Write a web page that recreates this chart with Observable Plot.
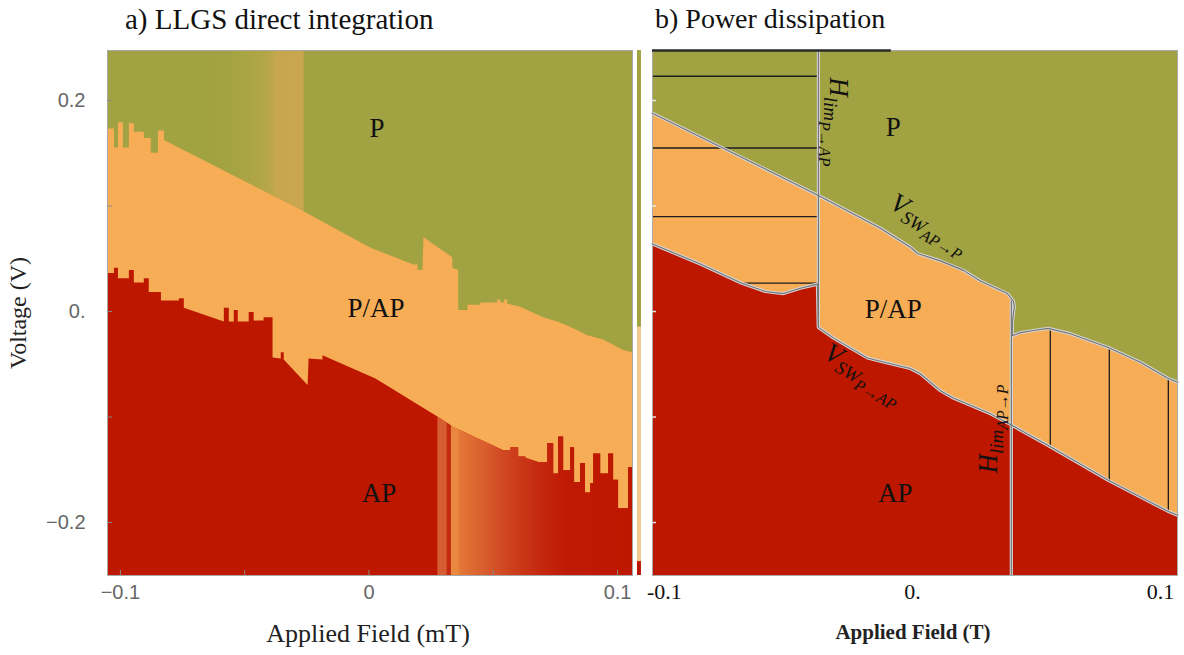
<!DOCTYPE html>
<html><head><meta charset="utf-8">
<script src="https://cdn.jsdelivr.net/npm/d3@7"></script>
<script src="https://cdn.jsdelivr.net/npm/@observablehq/plot@0.6"></script>
<style>
body{margin:0;background:#fff;}
#wrap{position:relative;width:1184px;height:655px;overflow:hidden;font-family:"Liberation Serif",serif;color:#111;}
#wrap svg{position:absolute;top:0;}
.lbl{position:absolute;white-space:nowrap;line-height:1;}
</style></head><body><div id="wrap"></div>
<script>
// ---------------- DATA ----------------
const regionLabels = ["P", "P/AP", "AP"];
const voltDomain = [-0.2502, 0.2474];
const voltTicks = [-0.2, -0.1, 0, 0.1, 0.2];
const aVoltLabelTicks = [-0.2, 0, 0.2];
const aVoltLabels = ["\u22120.2", "0.", "0.2"];

// Panel a: LLGS direct integration
const aFieldDomain = [-0.1052, 0.1060];
const aFieldTicks = [-0.1, -0.05, 0, 0.05, 0.1];
const aFieldLabelTicks = [-0.1, 0, 0.1];
const aFieldLabels = ["\u22120.1", "0", "0.1"];
// P | P/AP boundary
const aUpperField = [-0.1052,-0.1024,-0.1024,-0.1008,-0.1008,-0.0988,-0.0988,-0.0964,-0.0964,-0.0944,-0.0944,-0.0904,-0.0904,-0.0876,-0.0876,-0.0847,-0.0847,-0.0823,-0.0823,-0.0273,0.0008,0.0181,0.0197,0.0197,0.0217,0.0221,0.0337,0.0337,0.0361,0.0361,0.0398,0.0398,0.0450,0.0450,0.0518,0.0518,0.0530,0.0530,0.0546,0.0546,0.0558,0.0558,0.0610,0.0703,0.0759,0.0811,0.0880,0.0944,0.1024,0.1060];
const aUpperVolt = [0.173,0.173,0.155,0.155,0.179,0.179,0.155,0.155,0.178,0.178,0.170,0.170,0.164,0.164,0.150,0.150,0.171,0.171,0.162,0.096,0.060,0.044,0.044,0.039,0.039,0.070,0.051,0.041,0.039,0.001,0.001,0.006,0.006,0.008,0.008,0.011,0.011,0.008,0.008,0.011,0.011,0.007,0.004,-0.006,-0.010,-0.015,-0.023,-0.027,-0.037,-0.039];
// P/AP | AP boundary
const aLowerField = [-0.1052,-0.1024,-0.1024,-0.1008,-0.1008,-0.0964,-0.0964,-0.0944,-0.0944,-0.0904,-0.0904,-0.0884,-0.0884,-0.0835,-0.0835,-0.0763,-0.0763,-0.0743,-0.0743,-0.0582,-0.0582,-0.0562,-0.0562,-0.0542,-0.0542,-0.0526,-0.0526,-0.0482,-0.0482,-0.0462,-0.0462,-0.0422,-0.0422,-0.0386,-0.0386,-0.0353,-0.0353,-0.0341,-0.0341,-0.0245,-0.0241,-0.0185,-0.0185,0.0028,0.0277,0.0341,0.0542,0.0570,0.0570,0.0602,0.0602,0.0631,0.0631,0.0683,0.0719,0.0719,0.0743,0.0743,0.0763,0.0763,0.0783,0.0783,0.0811,0.0811,0.0827,0.0827,0.0851,0.0851,0.0871,0.0871,0.0892,0.0892,0.0904,0.0904,0.0932,0.0932,0.0964,0.0964,0.0984,0.0984,0.1004,0.1004,0.1044,0.1044,0.1060];
const aLowerVolt = [0.036,0.036,0.041,0.041,0.031,0.031,0.039,0.039,0.027,0.027,0.031,0.031,0.018,0.018,0.010,0.010,0.012,0.012,0.003,-0.010,0.003,0.003,-0.010,-0.010,0.001,0.001,-0.010,-0.010,-0.001,-0.001,-0.009,-0.009,-0.006,-0.006,-0.044,-0.045,-0.039,-0.039,-0.046,-0.070,-0.045,-0.046,-0.042,-0.064,-0.100,-0.110,-0.132,-0.132,-0.129,-0.129,-0.138,-0.138,-0.139,-0.143,-0.143,-0.125,-0.125,-0.154,-0.154,-0.119,-0.119,-0.151,-0.151,-0.129,-0.129,-0.162,-0.162,-0.144,-0.144,-0.172,-0.172,-0.163,-0.163,-0.135,-0.135,-0.154,-0.154,-0.135,-0.135,-0.160,-0.160,-0.187,-0.187,-0.148,-0.148];
const aGreenBand = [-0.0647, -0.0261];   // shaded stripe inside P region
const aRedBandStart = 0.0277;            // shaded stripe inside AP region
const aLabelField = [0.0032, 0.0028, 0.0040];
const aLabelVolt = [0.174, 0.003, -0.172];
const sliverField = [0.1080, 0.1096];
const sliverTop = [0.2474, -0.015, -0.237];
const sliverBottom = [-0.015, -0.237, -0.2502];

// Panel b: Power dissipation
const bFieldDomain = [-0.1048, 0.1069];
const bFieldLabelTicks = [-0.1, 0, 0.1];
const bFieldLabels = ["-0.1", "0.", "0.1"];
const bUpperField = [-0.1048,-0.0379,-0.0129,-0.0008,0.0020,0.0113,0.0206,0.0274,0.0383,0.0407,0.0411,0.0403,0.0403,0.0435,0.0488,0.0548,0.0637,0.0790,0.0919,0.1028,0.1069];
const bUpperVolt = [0.188,0.110,0.079,0.061,0.055,0.048,0.039,0.029,0.017,0.010,0.005,-0.010,-0.023,-0.020,-0.018,-0.016,-0.021,-0.034,-0.048,-0.063,-0.067];
const bLowerField = [-0.1048,-0.0855,-0.0690,-0.0593,-0.0520,-0.0452,-0.0383,-0.0379,-0.0319,-0.0254,-0.0181,-0.0113,-0.0008,0.0032,0.0113,0.0165,0.0315,0.0395,0.0548,0.0790,0.1028,0.1069];
const bLowerVolt = [0.064,0.045,0.027,0.019,0.017,0.022,0.026,-0.015,-0.025,-0.034,-0.044,-0.048,-0.054,-0.059,-0.075,-0.082,-0.097,-0.107,-0.127,-0.160,-0.189,-0.193];
const bHlimField = [-0.0379, 0.0399];
const bHlimTop = [0.2474, 0.010];
const bHlimBottom = [-0.015, -0.2502];
const bHatchVolt = [0.223, 0.155, 0.090, 0.027];
const bHatchStart = [-0.1048, -0.1048, -0.1048, -0.0690];
const bHatchEnd = [-0.0379, -0.0379, -0.0379, -0.0379];
const bVHatchField = [0.0556, 0.0794, 0.1032];
const bVHatchTop = [-0.016, -0.034, -0.063];
const bVHatchBottom = [-0.128, -0.161, -0.189];
const bTopRule = [-0.1048, -0.0085];
const bLabelField = [-0.0077, -0.0077, -0.0069];
const bLabelVolt = [0.175, 0.002, -0.172];
const bCurveMain = ["H", "V", "V", "H"];
const bCurveSub = ["lim", "SW", "SW", "lim"];
const bCurveSub2 = ["P\u2192AP", "AP\u2192P", "P\u2192AP", "AP\u2192P"];
const bCurveField = [-0.0331, -0.0097, -0.0363, 0.0343];
const bCurveVolt = [0.222, 0.0986, -0.0436, -0.1536];
const bCurveAngle = [90, 30, 30, -90];

// ---------------- STYLE ----------------
const GREEN = "#a1a242", ORANGE = "#f6ad55", RED = "#be1700";
const serif = "Liberation Serif", sans = "Liberation Sans";
const FRAME_W = 525, FRAME_H = 525, TICK = 5;

// ---------------- PANEL A ----------------
const iU = d3.range(aUpperField.length);
const iL = d3.range(aLowerField.length);
const iBand = iL.filter(i => aLowerField[i] >= aRedBandStart);
const iS = d3.range(sliverTop.length);
const sliverFill = [GREEN, "#f4c88e", RED];

const plotA = Plot.plot({
  width: 640, height: 655,
  marginLeft: 107, marginRight: 8, marginTop: 50, marginBottom: 80,
  style: {background: "transparent", overflow: "visible"},
  x: {domain: aFieldDomain, axis: null},
  y: {domain: voltDomain, axis: null},
  color: {type: "identity"},
  marks: [
    Plot.frame({fill: GREEN, stroke: null}),
    Plot.rect([aGreenBand], {x1: d => d[0], x2: d => d[1], y1: voltDomain[0], y2: voltDomain[1], fill: "url(#gBandA)"}),
    Plot.areaY(iU, {x: i => aUpperField[i], y1: voltDomain[0], y2: i => aUpperVolt[i], fill: ORANGE}),
    Plot.areaY(iL, {x: i => aLowerField[i], y1: voltDomain[0], y2: i => aLowerVolt[i], fill: RED}),
    Plot.areaY(iBand, {x: i => aLowerField[i], y1: voltDomain[0], y2: i => aLowerVolt[i], fill: "url(#rBandA)"}),
    Plot.frame({stroke: "#a8a8a8"}),
    Plot.rect(iS, {x1: sliverField[0], x2: sliverField[1], y1: i => sliverBottom[i], y2: i => sliverTop[i], fill: i => sliverFill[i]}),
    Plot.text(regionLabels, {x: (d, i) => aLabelField[i], y: (d, i) => aLabelVolt[i], text: d => d, fontFamily: serif, fontSize: 27, fill: "#111"}),
    Plot.tickY(voltTicks, {y: d => d, insetRight: FRAME_W - TICK, stroke: "#888"}),
    Plot.tickX(aFieldTicks, {x: d => d, insetTop: FRAME_H - TICK, stroke: "#888"}),
    Plot.text(aVoltLabelTicks, {y: d => d, frameAnchor: "left", dx: -22, textAnchor: "end", text: (d, i) => aVoltLabels[i], fontFamily: sans, fontSize: 20, fill: "#666"}),
    Plot.text(aFieldLabelTicks, {x: d => d, frameAnchor: "bottom", dy: 23, text: (d, i) => aFieldLabels[i], fontFamily: sans, fontSize: 20, fill: "#666"})
  ]
});

function addGradient(svg, id, offsets, colors) {
  let defs = d3.select(svg).select("defs");
  if (defs.empty()) defs = d3.select(svg).insert("defs", ":first-child");
  const g = defs.append("linearGradient").attr("id", id).attr("x1", 0).attr("x2", 1).attr("y1", 0).attr("y2", 0);
  offsets.forEach((o, i) => g.append("stop").attr("offset", o).attr("stop-color", colors[i]));
}
addGradient(plotA, "gBandA", [0, 0.25, 0.55, 0.69, 0.7, 1], [GREEN, "#a4a343", "#b0a547", "#bea64b", "#c6a64e", "#caa650"]);
addGradient(plotA, "rBandA",
  [0, 0.046, 0.049, 0.067, 0.072, 0.103, 0.118, 0.22, 0.32, 0.426, 0.53, 0.656, 1],
  ["#d65c32", "#d65c32", "#c32a10", "#c32a10", "#e9893f", "#e9893f", "#e37636", "#db6230", "#d24c24", "#ca3818", "#c42810", "#bf1a04", RED]);

// ---------------- PANEL B ----------------
const jU = d3.range(bUpperField.length);
const jL = d3.range(bLowerField.length);
const jH = d3.range(bHlimField.length);
const jR = d3.range(bHatchVolt.length);
const jV = d3.range(bVHatchField.length);
const jC = d3.range(bCurveMain.length);
const halo = "#d6d6d6", core = "#727272";

const plotB = Plot.plot({
  width: 544, height: 655,
  marginLeft: 12, marginRight: 7, marginTop: 50, marginBottom: 80,
  style: {background: "transparent", overflow: "visible"},
  x: {domain: bFieldDomain, axis: null},
  y: {domain: voltDomain, axis: null},
  marks: [
    Plot.frame({fill: GREEN, stroke: null}),
    Plot.areaY(jU, {x: i => bUpperField[i], y1: voltDomain[0], y2: i => bUpperVolt[i], fill: ORANGE}),
    Plot.areaY(jL, {x: i => bLowerField[i], y1: voltDomain[0], y2: i => bLowerVolt[i], fill: RED}),
    Plot.ruleY(jR, {y: i => bHatchVolt[i], x1: i => bHatchStart[i], x2: i => bHatchEnd[i], stroke: "#1c1c1c", strokeWidth: 1.3}),
    Plot.ruleX(jV, {x: i => bVHatchField[i], y1: i => bVHatchBottom[i], y2: i => bVHatchTop[i], stroke: "#1c1c1c", strokeWidth: 1.3}),
    Plot.line(jU, {x: i => bUpperField[i], y: i => bUpperVolt[i], stroke: halo, strokeWidth: 3.2}),
    Plot.line(jL, {x: i => bLowerField[i], y: i => bLowerVolt[i], stroke: halo, strokeWidth: 3.2}),
    Plot.ruleX(jH, {x: i => bHlimField[i], y1: i => bHlimBottom[i], y2: i => bHlimTop[i], stroke: halo, strokeWidth: 3.2}),
    Plot.line(jU, {x: i => bUpperField[i], y: i => bUpperVolt[i], stroke: core, strokeWidth: 1.1}),
    Plot.line(jL, {x: i => bLowerField[i], y: i => bLowerVolt[i], stroke: core, strokeWidth: 1.1}),
    Plot.ruleX(jH, {x: i => bHlimField[i], y1: i => bHlimBottom[i], y2: i => bHlimTop[i], stroke: core, strokeWidth: 1.1}),
    Plot.frame({stroke: "#aaaaaa"}),
    Plot.ruleY([voltDomain[1]], {y: d => d, x1: bTopRule[0], x2: bTopRule[1], stroke: "#2a2a2a", strokeWidth: 2.5}),
    Plot.tickY(voltTicks, {y: d => d, insetRight: FRAME_W - 4, stroke: "#e6e6e6", strokeWidth: 1.5}),
    Plot.text(regionLabels, {x: (d, i) => bLabelField[i], y: (d, i) => bLabelVolt[i], text: d => d, fontFamily: serif, fontSize: 27, fill: "#111"}),
    Plot.text(jC, {x: i => bCurveField[i], y: i => bCurveVolt[i], text: i => `${bCurveMain[i]}|${bCurveSub[i]}|${bCurveSub2[i]}`, rotate: i => bCurveAngle[i], textAnchor: "start", fontFamily: serif, fontStyle: "italic", fontSize: 27, fill: "#111"}),
    Plot.text(bFieldLabelTicks, {x: d => d, frameAnchor: "bottom", dy: 23, text: (d, i) => bFieldLabels[i], fontFamily: serif, fontSize: 22, fill: "#111"})
  ]
});

// split curve labels into main symbol + subscripts
d3.select(plotB).selectAll("text").filter(function() { return this.textContent.includes("|"); }).each(function() {
  const parts = this.textContent.split("|");
  const t = d3.select(this);
  t.text(null).attr("y", 0);
  t.append("tspan").attr("font-size", 27).text(parts[0]);
  t.append("tspan").attr("font-size", 19).attr("dy", 6).text(parts[1]);
  t.append("tspan").attr("font-size", 16).attr("dy", 5).text(parts[2]);
});

// ---------------- LAYOUT ----------------
const wrap = document.getElementById("wrap");
plotA.style.left = "0px";
plotB.style.left = "640px";
wrap.appendChild(plotA);
wrap.appendChild(plotB);

function addLabel(text, css) {
  const d = document.createElement("div");
  d.className = "lbl";
  d.textContent = text;
  Object.assign(d.style, css);
  wrap.appendChild(d);
}
addLabel("a) LLGS direct integration", {left: "125px", top: "5px", fontSize: "29px"});
addLabel("b) Power dissipation", {left: "655px", top: "5px", fontSize: "28px"});
addLabel("Applied Field (mT)", {left: "368px", top: "621px", fontSize: "26px", transform: "translateX(-50%)", color: "#222"});
addLabel("Applied Field (T)", {left: "913px", top: "622px", fontSize: "21px", fontWeight: "bold", transform: "translateX(-50%)", color: "#222"});
addLabel("Voltage (V)", {left: "18px", top: "313px", fontSize: "24px", transform: "translate(-50%,-50%) rotate(-90deg)", color: "#222"});
</script>
</body></html>
